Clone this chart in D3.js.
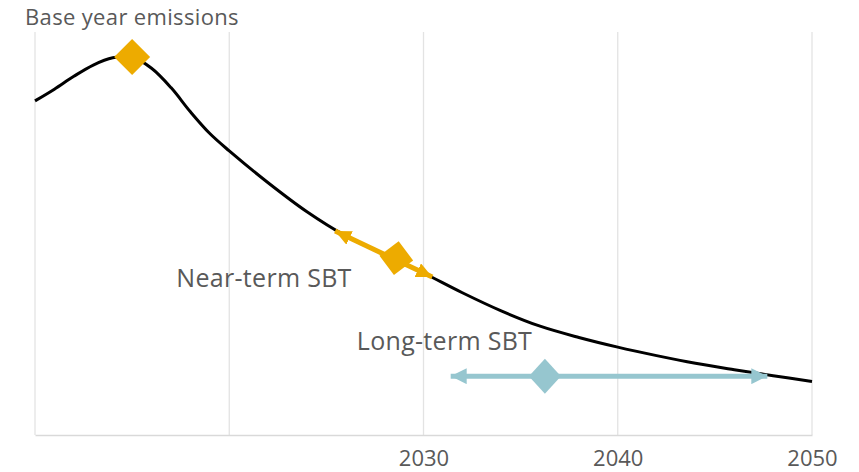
<!DOCTYPE html>
<html>
<head>
<meta charset="utf-8">
<script src="https://cdn.jsdelivr.net/npm/d3@7"></script>
<style>
  body { margin: 0; background: #fff; }
  text { font-family: "Open Sans", sans-serif; fill: #595959; }
</style>
</head>
<body>
<svg id="chart" width="859" height="472"></svg>
<script>
// emissions path (index, 0..100)
var years = [2010, 2011, 2012, 2013, 2014, 2015, 2016, 2017, 2018, 2019, 2020, 2022, 2024, 2026, 2028,
             2030, 2032, 2034, 2036, 2038, 2040, 2042, 2044, 2046, 2048, 2050];
var emissions = [82.9, 85.8, 89.0, 91.8, 93.6, 93.8, 91.0, 86.2, 80.2, 74.8, 70.5, 62.6, 55.4, 49.4, 44.8,
                 40.2, 35.3, 30.8, 27.0, 24.2, 21.8, 19.7, 17.8, 16.2, 14.7, 13.3];

var gridYears = [2010, 2020, 2030, 2040, 2050];
var tickLabels = ["2030", "2040", "2050"];

// base year marker
var baseYear = [2015, 93.8];
// near-term target: arrow from start to end, diamond at target
var nearTerm = { start: [2025.45, 50.6], end: [2030.45, 39.2], target: [2028.6, 43.9] };
// long-term target
var longTerm = { start: [2031.4, 14.6], end: [2047.7, 14.6], target: [2036.25, 14.6] };

var orange = "#EDAB00";
var teal = "#96C6CF";

var svg = d3.select("#chart");
var x = d3.scaleLinear().domain([2010, 2050]).range([35, 812]);
var y = d3.scaleLinear().domain([0, 100]).range([435, 32]);

// vertical gridlines
svg.append("g")
    .selectAll("line")
    .data(gridYears)
    .join("line")
    .attr("x1", function (d) { return x(d); })
    .attr("x2", function (d) { return x(d); })
    .attr("y1", y(100))
    .attr("y2", y(0))
    .attr("stroke", "#e3e3e3")
    .attr("stroke-width", 1.3);

// bottom axis
var axis = svg.append("g")
    .attr("transform", "translate(0," + y(0) + ")")
    .call(d3.axisBottom(x).tickValues(tickLabels.map(Number)).tickSize(0).tickPadding(15)
        .tickFormat(function (d) { return String(d); }));
axis.select(".domain").attr("stroke", "#d9d9d9").attr("stroke-width", 1.3);
axis.selectAll("text").attr("font-size", "22px").attr("fill", "#595959")
    .attr("font-family", "Open Sans, sans-serif");

// emissions curve
var line = d3.line()
    .x(function (d) { return x(d[0]); })
    .y(function (d) { return y(d[1]); })
    .curve(d3.curveCatmullRom.alpha(0.5));

svg.append("path")
    .datum(years.map(function (yr, i) { return [yr, emissions[i]]; }))
    .attr("fill", "none")
    .attr("stroke", "#000")
    .attr("stroke-width", 3)
    .attr("d", line);

// arrow heads
var defs = svg.append("defs");
function marker(id, color, len, wid) {
    defs.append("marker")
        .attr("id", id)
        .attr("markerUnits", "userSpaceOnUse")
        .attr("viewBox", "0 0 " + len + " " + wid)
        .attr("refX", len)
        .attr("refY", wid / 2)
        .attr("markerWidth", len)
        .attr("markerHeight", wid)
        .attr("orient", "auto-start-reverse")
        .append("path")
        .attr("d", "M0,0L" + len + "," + (wid / 2) + "L0," + wid + "Z")
        .attr("fill", color);
}
marker("headOrange", orange, 16, 15);
marker("headTeal", teal, 16, 16);

function arrow(t, color, width, head) {
    svg.append("line")
        .attr("x1", x(t.start[0])).attr("y1", y(t.start[1]))
        .attr("x2", x(t.end[0])).attr("y2", y(t.end[1]))
        .attr("stroke", color)
        .attr("stroke-width", width)
        .attr("marker-start", "url(#" + head + ")")
        .attr("marker-end", "url(#" + head + ")");
}
function diamond(p, color, hw, hh, rot) {
    svg.append("path")
        .attr("d", "M0," + (-hh) + "L" + hw + ",0L0," + hh + "L" + (-hw) + ",0Z")
        .attr("fill", color)
        .attr("transform", "translate(" + x(p[0]) + "," + y(p[1]) + ") rotate(" + rot + ")");
}

arrow(nearTerm, orange, 5, "headOrange");
arrow(longTerm, teal, 5, "headTeal");

diamond(baseYear, orange, 18, 18, 0);
diamond(nearTerm.target, orange, 17, 17, 8);
diamond(longTerm.target, teal, 16, 17.5, 0);

// labels
svg.append("text").attr("x", 25).attr("y", 25).attr("font-size", "22px")
    .attr("letter-spacing", "0.35px").text("Base year emissions");
svg.append("text").attr("x", 264).attr("y", 287).attr("text-anchor", "middle")
    .attr("font-size", "25px").attr("letter-spacing", "0.3px").text("Near-term SBT");
svg.append("text").attr("x", 444.5).attr("y", 350).attr("text-anchor", "middle")
    .attr("font-size", "25px").attr("letter-spacing", "0.3px").text("Long-term SBT");
</script>
</body>
</html>
